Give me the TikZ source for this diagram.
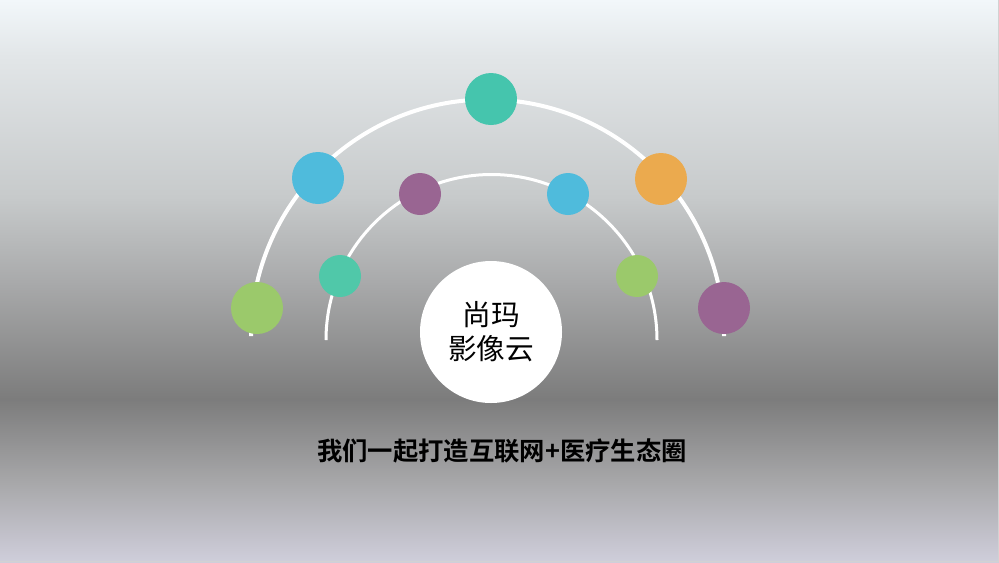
\documentclass[tikz,border=0pt]{standalone}
\usepackage{fontspec}
\newfontfamily\cjk{Noto Sans CJK SC}
\newfontfamily\cjkbold{Noto Sans CJK SC Bold}
\definecolor{bgtop}{HTML}{F2F7FA}
\definecolor{bgA}{HTML}{E2E6E8}
\definecolor{bgB}{HTML}{C7CACB}
\definecolor{bgC}{HTML}{A9AAAB}
\definecolor{bgdark}{HTML}{7C7C7C}
\definecolor{bgD}{HTML}{A8A8AA}
\definecolor{bgbot}{HTML}{CFCEDB}
\definecolor{cteal}{HTML}{45C5AD}
\definecolor{cteal2}{HTML}{50C8A9}
\definecolor{cblue}{HTML}{4FBBDC}
\definecolor{corange}{HTML}{EBAA4E}
\definecolor{cgreen}{HTML}{9BC96B}
\definecolor{cpurple}{HTML}{996592}
\pgfdeclareverticalshading{slidebg}{100bp}{%
  color(0bp)=(bgbot); color(25bp)=(bgbot); color(32bp)=(bgD);
  color(39.5bp)=(bgdark); color(50bp)=(bgC); color(57.5bp)=(bgB);
  color(70bp)=(bgA); color(75bp)=(bgtop); color(100bp)=(bgtop)}
\tikzset{
  bigdot/.style={circle, draw=none, inner sep=0pt, minimum size=39pt},
  smalldot/.style={circle, draw=none, inner sep=0pt, minimum size=31.5pt},
  outerarc/.style={white, line width=3pt},
  innerarc/.style={white, line width=2.25pt},
}
\begin{document}
\begin{tikzpicture}[x=0.75pt,y=-0.75pt]
\useasboundingbox (0,0) rectangle (999,562);
\shade[shading=slidebg] (0,0) rectangle (999,562);
\draw[gray!35, line width=0.75pt] (998.5,0) -- (998.5,561.5) -- (0,561.5);
% arcs
\coordinate (oL) at (251,336);
\coordinate (iL) at (326,340);
\draw[outerarc] (oL) arc[start angle=180, end angle=360, radius=236.5];
\draw[innerarc] (iL) arc[start angle=180, end angle=360, radius=165.5];
% outer circles
\node[bigdot, fill=cteal] (o3) at (491,99) {};
\node[bigdot, fill=cblue] (o2) at (318,178) {};
\node[bigdot, fill=corange] (o4) at (661,179) {};
\node[bigdot, fill=cgreen] (o1) at (257,308) {};
\node[bigdot, fill=cpurple] (o5) at (724,308) {};
% inner circles
\node[smalldot, fill=cpurple] (i2) at (420,194) {};
\node[smalldot, fill=cblue] (i3) at (568,194) {};
\node[smalldot, fill=cteal2] (i1) at (340,276) {};
\node[smalldot, fill=cgreen] (i4) at (637,276) {};
% centre
\node[circle, fill=white, inner sep=0pt, minimum size=106.5pt, align=center,
  font=\cjk\fontsize{21.5}{25.5}\selectfont] (c) at (491,332) {尚玛\\影像云};
\node[font=\cjkbold\fontsize{19}{22}\selectfont, text=black] (t) at (502,451)
  {我们一起打造互联网+医疗生态圈};
\end{tikzpicture}
\end{document}
